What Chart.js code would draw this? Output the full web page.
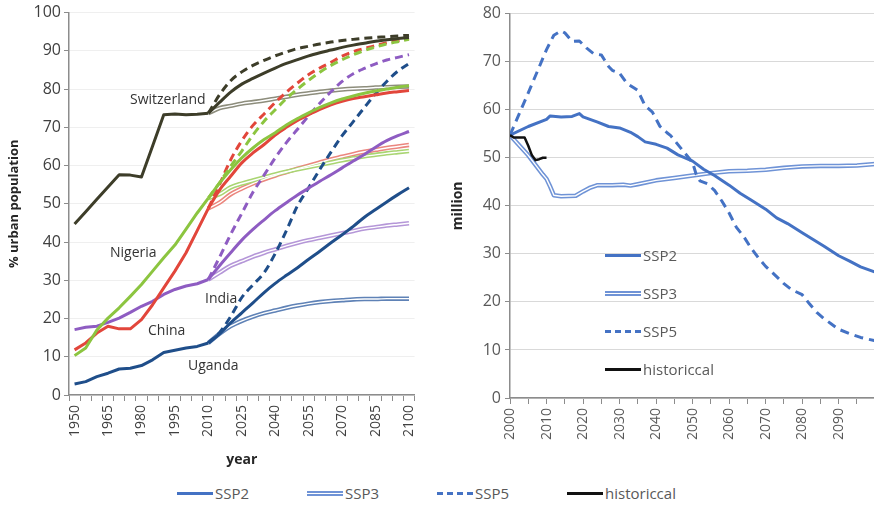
<!DOCTYPE html>
<html lang="en">
<head>
<meta charset="UTF-8">
<title>Urban population and million</title>
<script src="https://cdn.jsdelivr.net/npm/chart.js@4/dist/chart.umd.min.js"></script>
<style>
    html, body {
        margin: 0;
        padding: 0;
        width: 874px;
        height: 507px;
        overflow: hidden;
        background: #ffffff;
    }
    body {
        position: relative;
        font-family: "Open Sans", sans-serif;
    }
    #left { position: absolute; left: 0; top: 0; }
    #right { position: absolute; left: 440px; top: 0; }
    .lbl {
        position: absolute;
        font-size: 14px;
        color: #333333;
        white-space: nowrap;
        line-height: 16px;
    }
    .leg {
        position: absolute;
        font-size: 15px;
        color: #595959;
        white-space: nowrap;
        display: flex;
        align-items: center;
        height: 20px;
    }
    .sw { width: 36px; margin-right: 2px; box-sizing: border-box; }
    .sw.solid { height: 3px; background: #4472c4; }
    .sw.double { height: 5px; border-top: 2px solid #6f93d6; border-bottom: 2px solid #6f93d6; background: #fff; }
    .sw.dash { height: 0; border-top: 3px dashed #4472c4; }
    .sw.black { height: 3px; background: #111111; }
</style>
</head>
<body>
<canvas id="left" width="430" height="470"></canvas>
<canvas id="right" width="456" height="470"></canvas>

<div class="lbl" style="left:130px; top:91px;">Switzerland</div>
<div class="lbl" style="left:110px; top:244px;">Nigeria</div>
<div class="lbl" style="left:205px; top:290px;">India</div>
<div class="lbl" style="left:148px; top:322px;">China</div>
<div class="lbl" style="left:188px; top:357px;">Uganda</div>

<div class="leg" style="left:605px; top:245px;"><div class="sw solid"></div>SSP2</div>
<div class="leg" style="left:605px; top:283px;"><div class="sw double"></div>SSP3</div>
<div class="leg" style="left:605px; top:321px;"><div class="sw dash"></div>SSP5</div>
<div class="leg" style="left:605px; top:359px;"><div class="sw black"></div>historiccal</div>

<div class="leg" style="left:177px; top:483px;"><div class="sw solid"></div>SSP2</div>
<div class="leg" style="left:307px; top:483px;"><div class="sw double"></div>SSP3</div>
<div class="leg" style="left:437px; top:483px;"><div class="sw dash"></div>SSP5</div>
<div class="leg" style="left:567px; top:483px;"><div class="sw black"></div>historiccal</div>

<script>
    // ---- left panel: % urban population, 5-year steps ----
    var years = [1950, 1955, 1960, 1965, 1970, 1975, 1980, 1985, 1990, 1995, 2000, 2005, 2010,
        2015, 2020, 2025, 2030, 2035, 2040, 2045, 2050, 2055, 2060, 2065, 2070, 2075, 2080, 2085, 2090, 2095, 2100];

    // 1950..2010
    var swissHist   = [44.7, 47.9, 51.2, 54.4, 57.6, 57.5, 57.0, 65.1, 73.3, 73.5, 73.3, 73.4, 73.7];
    var nigeriaHist = [10.3, 12.3, 17.0, 20.1, 22.8, 25.8, 28.9, 32.4, 35.9, 39.2, 43.4, 47.6, 51.5];
    var chinaHist   = [11.8, 13.6, 16.2, 18.0, 17.3, 17.3, 19.7, 23.6, 28.0, 32.4, 37.2, 43.0, 48.8];
    var indiaHist   = [17.1, 17.7, 18.0, 19.0, 20.1, 21.6, 23.2, 24.5, 26.3, 27.6, 28.5, 29.1, 30.2];
    var ugandaHist  = [2.9, 3.5, 4.8, 5.7, 6.8, 7.0, 7.7, 9.2, 11.1, 11.7, 12.3, 12.7, 13.6];

    // 2010..2100
    var swissSSP2 = [73.7, 76.5, 79.2, 81.3, 82.8, 84.2, 85.5, 86.7, 87.7, 88.7, 89.5, 90.2, 90.9, 91.5, 92.0, 92.5, 92.9, 93.2, 93.5];
    var swissSSP3 = [73.7, 75.0, 75.6, 76.2, 76.6, 77.0, 77.5, 78.0, 78.5, 78.9, 79.3, 79.6, 79.9, 80.1, 80.2, 80.4, 80.5, 80.6, 80.7];
    var swissSSP5 = [73.7, 78.5, 82.2, 84.5, 86.2, 87.5, 88.7, 89.7, 90.6, 91.2, 91.8, 92.3, 92.7, 93.0, 93.3, 93.5, 93.7, 93.9, 94.1];

    var nigeriaSSP2 = [51.5, 55.4, 58.9, 62.0, 64.6, 66.8, 68.6, 70.6, 72.3, 73.8, 75.2, 76.4, 77.4, 78.2, 78.9, 79.5, 80.0, 80.5, 80.9];
    var nigeriaSSP3 = [51.5, 52.5, 54.3, 55.3, 56.1, 56.9, 57.7, 58.4, 59.0, 59.6, 60.2, 60.8, 61.4, 61.9, 62.4, 62.8, 63.2, 63.5, 63.8];
    var nigeriaSSP5 = [51.5, 55.5, 59.8, 63.8, 68.0, 71.6, 74.6, 77.5, 80.0, 82.3, 84.4, 86.2, 87.7, 89.0, 90.1, 91.0, 91.8, 92.4, 93.0];

    var chinaSSP2 = [48.8, 53.6, 57.2, 60.7, 63.3, 65.5, 68.0, 70.0, 71.8, 73.3, 74.7, 75.9, 76.8, 77.5, 78.0, 78.5, 79.0, 79.3, 79.6];
    var chinaSSP3 = [48.8, 50.3, 52.5, 54.0, 55.3, 56.4, 57.4, 58.3, 59.2, 60.0, 60.8, 61.6, 62.3, 63.0, 63.6, 64.1, 64.6, 65.0, 65.4];
    var chinaSSP5 = [48.8, 55.0, 61.5, 66.5, 70.5, 73.5, 76.5, 79.2, 81.6, 83.8, 85.5, 87.0, 88.6, 89.8, 90.6, 91.4, 92.1, 92.7, 93.2];

    var indiaSSP2 = [30.2, 33.8, 37.2, 40.5, 43.3, 45.8, 48.2, 50.3, 52.3, 54.1, 55.9, 57.6, 59.4, 61.2, 62.9, 64.8, 66.5, 67.8, 68.9];
    var indiaSSP3 = [30.2, 32.0, 33.8, 35.0, 36.2, 37.2, 38.1, 39.0, 39.8, 40.5, 41.1, 41.7, 42.3, 42.9, 43.5, 43.9, 44.3, 44.6, 44.9];
    var indiaSSP5 = [30.2, 36.0, 42.0, 47.5, 53.0, 57.5, 62.0, 66.0, 69.5, 73.0, 76.3, 79.3, 82.0, 84.0, 85.4, 86.6, 87.6, 88.3, 89.0];

    var ugandaSSP2 = [13.6, 16.0, 18.9, 21.5, 24.1, 26.8, 29.2, 31.3, 33.3, 35.5, 37.6, 39.8, 41.9, 44.1, 46.5, 48.5, 50.5, 52.4, 54.2];
    var ugandaSSP3 = [13.6, 16.0, 18.0, 19.4, 20.5, 21.4, 22.1, 22.8, 23.4, 23.9, 24.3, 24.6, 24.8, 25.0, 25.1, 25.1, 25.2, 25.2, 25.2];
    var ugandaSSP5 = [13.6, 16.3, 20.5, 25.5, 28.8, 32.0, 37.0, 43.0, 49.5, 54.2, 59.0, 63.5, 67.8, 71.5, 75.2, 78.8, 82.0, 84.7, 86.7];

    var countries = [
        {hist: swissHist, ssp2: swissSSP2, ssp3: swissSSP3, ssp5: swissSSP5, color: '#3d3d29', light: '#8d8d7c'},
        {hist: nigeriaHist, ssp2: nigeriaSSP2, ssp3: nigeriaSSP3, ssp5: nigeriaSSP5, color: '#8cc540', light: '#a9d572'},
        {hist: chinaHist, ssp2: chinaSSP2, ssp3: chinaSSP3, ssp5: chinaSSP5, color: '#e2463b', light: '#eb867e'},
        {hist: indiaHist, ssp2: indiaSSP2, ssp3: indiaSSP3, ssp5: indiaSSP5, color: '#8e5cc2', light: '#b597d8'},
        {hist: ugandaHist, ssp2: ugandaSSP2, ssp3: ugandaSSP3, ssp5: ugandaSSP5, color: '#1f4e8a', light: '#5f82b6'}
    ];

    // ---- right panel: million ----
    var ssp2Years = [2000, 2005, 2010, 2011, 2014, 2017, 2019, 2020, 2024, 2027, 2030, 2033, 2035, 2037, 2040, 2043, 2046,
        2050, 2053, 2056, 2060, 2063, 2066, 2070, 2073, 2076, 2080, 2083, 2086, 2090, 2093, 2096, 2100];
    var ssp2Vals = [54.7, 56.5, 58.0, 58.7, 58.5, 58.6, 59.2, 58.5, 57.4, 56.5, 56.2, 55.3, 54.4, 53.3, 52.8, 52.0, 50.6,
        49.3, 47.6, 46.3, 44.3, 42.6, 41.2, 39.3, 37.5, 36.3, 34.4, 33.0, 31.6, 29.6, 28.5, 27.3, 26.2];

    var ssp3Years = [2000, 2005, 2009, 2010, 2011, 2012, 2014, 2018, 2020, 2022, 2024, 2028, 2031, 2033, 2035, 2040, 2045,
        2050, 2055, 2060, 2065, 2070, 2075, 2080, 2085, 2090, 2095, 2100];
    var ssp3Vals = [54.7, 50.5, 46.5, 45.6, 44.0, 42.2, 42.0, 42.1, 43.0, 43.8, 44.3, 44.3, 44.4, 44.2, 44.5, 45.3, 45.8,
        46.3, 46.8, 47.2, 47.3, 47.5, 47.9, 48.2, 48.3, 48.3, 48.4, 48.7];

    var ssp5Years = [2000, 2005, 2010, 2012, 2014, 2015, 2017, 2019, 2021, 2023, 2025, 2027, 2028, 2030, 2032, 2034, 2035,
        2037, 2039, 2041, 2043, 2044, 2047, 2050, 2051, 2052, 2054, 2056, 2058, 2060, 2062, 2064, 2066, 2068, 2070, 2072,
        2075, 2077, 2080, 2082, 2084, 2086, 2088, 2090, 2093, 2096, 2100];
    var ssp5Vals = [54.7, 63.5, 72.5, 75.5, 76.4, 76.0, 74.2, 74.3, 72.8, 71.6, 71.4, 69.0, 68.2, 67.6, 65.5, 64.5, 64.0,
        60.8, 59.5, 56.6, 55.2, 54.6, 51.8, 49.0, 46.5, 45.2, 44.6, 43.2, 41.0, 38.5, 35.5, 33.6, 31.2, 29.2, 27.4, 26.0,
        23.8, 22.6, 21.5, 19.6, 17.8, 16.5, 15.4, 14.3, 13.4, 12.6, 11.9];

    var histYears = [2000, 2001, 2004, 2005, 2006, 2007, 2008, 2009, 2010];
    var histVals = [54.7, 54.2, 54.2, 52.5, 50.5, 49.5, 49.7, 50.0, 50.0];

    // ------------------------------------------------
    function pad(before, arr, after) {
        var out = [];
        for (var i = 0; i < before; i++) out.push(null);
        out = out.concat(arr);
        for (var j = 0; j < after; j++) out.push(null);
        return out;
    }

    function pairs(xs, ys) {
        return xs.map(function (x, i) { return {x: x, y: ys[i]}; });
    }

    var tickGray = '#8c8c8c';

    function buildLeft() {
        var ds = [];
        countries.forEach(function (c) {
            var hist = pad(0, c.hist, 18);
            var s2 = pad(12, c.ssp2, 0);
            var s3 = pad(12, c.ssp3, 0);
            var s5 = pad(12, c.ssp5, 0);
            ds.push({data: hist, borderColor: c.color, borderWidth: 3, tension: 0, order: 1});
            ds.push({data: s2, borderColor: c.color, borderWidth: 3, cubicInterpolationMode: 'monotone', order: 1});
            ds.push({data: s5, borderColor: c.color, borderWidth: 3, borderDash: [8, 5], cubicInterpolationMode: 'monotone', order: 1});
            ds.push({data: s3, borderColor: c.light, borderWidth: 4.5, cubicInterpolationMode: 'monotone', order: 3});
            ds.push({data: s3, borderColor: '#ffffff', borderWidth: 1.4, cubicInterpolationMode: 'monotone', order: 2});
        });
        return ds;
    }

    var common = {
        responsive: false,
        animation: false,
        plugins: {legend: {display: false}, tooltip: {enabled: false}},
        elements: {point: {radius: 0}, line: {borderCapStyle: 'butt', borderJoinStyle: 'round'}},
        spanGaps: false
    };

    new Chart(document.getElementById('left').getContext('2d'), {
        type: 'line',
        data: {labels: years, datasets: buildLeft()},
        options: Object.assign({}, common, {
            layout: {padding: {top: 8, right: 12, left: 0, bottom: 0}},
            scales: {
                x: {
                    type: 'category',
                    offset: true,
                    grid: {offset: true, drawOnChartArea: false, tickLength: 6, tickColor: tickGray, tickWidth: 1},
                    border: {color: tickGray, width: 1.5},
                    ticks: {
                        autoSkip: false, maxRotation: 90, minRotation: 90, padding: 4,
                        color: '#404040', font: {family: 'Open Sans', size: 14},
                        callback: function (v, i) { return i % 3 === 0 ? this.getLabelForValue(v) : ''; }
                    },
                    title: {display: true, text: 'year', color: '#262626', font: {family: 'Open Sans', size: 14, weight: 'bold'}, padding: {top: 0, bottom: 2}},
                    afterFit: function (s) { s.height = 75; }
                },
                y: {
                    min: 0, max: 100,
                    grid: {color: '#efefef', tickColor: tickGray, tickLength: 5, lineWidth: 1},
                    border: {color: tickGray, width: 1.5},
                    ticks: {stepSize: 10, color: '#404040', padding: 3, font: {family: 'Open Sans', size: 16}},
                    title: {display: true, text: '% urban population', color: '#262626', font: {family: 'Open Sans', size: 13, weight: 'bold'}, padding: {top: 6, bottom: 0}},
                    afterFit: function (s) { s.width = 69; }
                }
            }
        })
    });

    new Chart(document.getElementById('right').getContext('2d'), {
        type: 'line',
        data: {
            datasets: [
                {data: pairs(histYears, histVals), borderColor: '#111111', borderWidth: 2.5, order: 0},
                {data: pairs(ssp2Years, ssp2Vals), borderColor: '#4472c4', borderWidth: 3, order: 1},
                {data: pairs(ssp5Years, ssp5Vals), borderColor: '#4472c4', borderWidth: 3, borderDash: [9, 6], order: 1},
                {data: pairs(ssp3Years, ssp3Vals), borderColor: '#6f93d6', borderWidth: 4.5, order: 3},
                {data: pairs(ssp3Years, ssp3Vals), borderColor: '#ffffff', borderWidth: 1.4, order: 2}
            ]
        },
        options: Object.assign({}, common, {
            layout: {padding: {top: 6, right: 0, left: 0, bottom: 0}},
            scales: {
                x: {
                    type: 'linear', min: 2000, max: 2100,
                    grid: {drawOnChartArea: false, tickLength: 6, tickColor: tickGray},
                    border: {color: tickGray, width: 1.5},
                    ticks: {
                        stepSize: 5, autoSkip: false, maxRotation: 90, minRotation: 90, padding: 4,
                        color: '#595959', font: {family: 'Open Sans', size: 14},
                        callback: function (v) { return (v % 10 === 0 && v < 2100) ? String(v) : ''; }
                    },
                    afterFit: function (s) { s.height = 72; }
                },
                y: {
                    min: 0, max: 80,
                    grid: {color: '#d9d9d9', tickColor: tickGray, tickLength: 5},
                    border: {color: tickGray, width: 1.5},
                    ticks: {stepSize: 10, color: '#595959', padding: 4, font: {family: 'Open Sans', size: 16}},
                    title: {display: true, text: 'million', color: '#262626', font: {family: 'Open Sans', size: 14, weight: 'bold'}, padding: {top: 10, bottom: 0}},
                    afterFit: function (s) { s.width = 70; }
                }
            }
        })
    });
</script>
</body>
</html>
